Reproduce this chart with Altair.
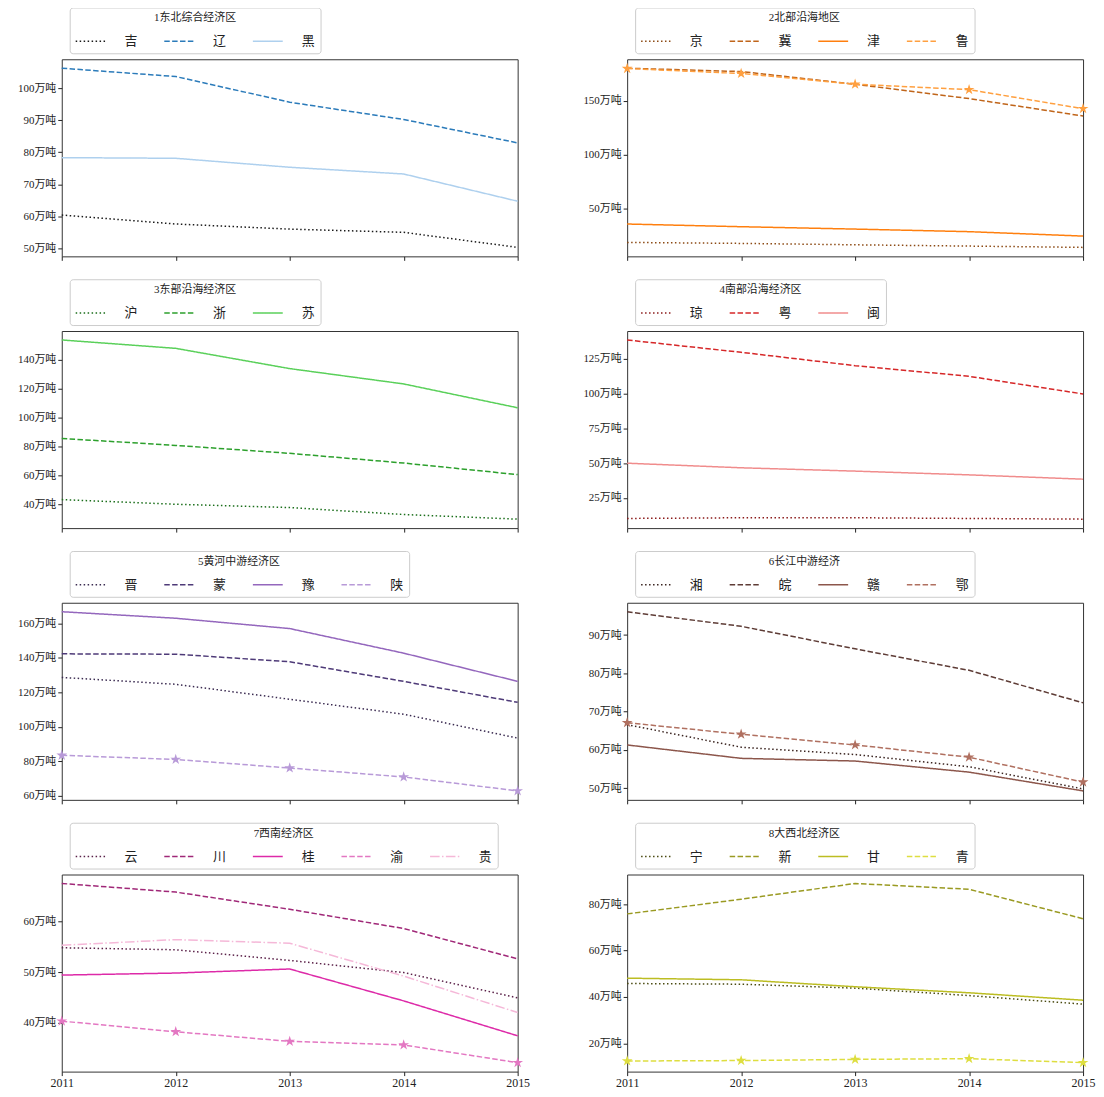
import altair as alt
import pandas as pd

years = [2011, 2012, 2013, 2014, 2015]

# ---- 1 东北综合经济区
r1_title = "1东北综合经济区"
r1_names = ["吉", "辽", "黑"]
r1_values = [[60.4, 57.6, 56.0, 55.0, 50.3],
             [106.2, 103.6, 95.6, 90.2, 82.9],
             [78.3, 78.1, 75.3, 73.2, 64.7]]
r1_colors = ["#1a1a1a", "#2b7bba", "#aed0ee"]
r1_ticks = [50, 60, 70, 80, 90, 100]

# ---- 2 北部沿海地区
r2_title = "2北部沿海地区"
r2_names = ["京", "冀", "津", "鲁"]
r2_values = [[18.3, 17.4, 16.1, 14.9, 13.7],
             [180.1, 177.0, 165.2, 151.9, 135.7],
             [35.4, 32.9, 30.7, 28.3, 24.2],
             [179.8, 175.2, 165.2, 160.2, 142.5]]
r2_colors = ["#8c4a14", "#c0651a", "#ff7f0e", "#ffa040"]
r2_ticks = [50, 100, 150]

# ---- 3 东部沿海经济区
r3_title = "3东部沿海经济区"
r3_names = ["沪", "浙", "苏"]
r3_values = [[43.4, 40.2, 37.9, 33.1, 29.9],
             [85.7, 80.9, 75.4, 68.7, 60.7],
             [153.8, 148.0, 134.0, 123.4, 106.9]]
r3_colors = ["#1a6e1a", "#2ca02c", "#5ad05a"]
r3_ticks = [40, 60, 80, 100, 120, 140]

# ---- 4 南部沿海经济区
r4_title = "4南部沿海经济区"
r4_names = ["琼", "粤", "闽"]
r4_values = [[10.1, 10.6, 10.6, 10.1, 9.6],
             [138.7, 129.8, 120.2, 112.5, 99.8],
             [49.9, 46.6, 44.2, 41.5, 38.4]]
r4_colors = ["#8b1a1a", "#d62728", "#f08c8c"]
r4_ticks = [25, 50, 75, 100, 125]

# ---- 5 黄河中游经济区
r5_title = "5黄河中游经济区"
r5_names = ["晋", "蒙", "豫", "陕"]
r5_values = [[128.7, 124.7, 116.0, 107.3, 93.4],
             [142.4, 142.2, 137.8, 126.4, 114.2],
             [166.9, 163.1, 157.1, 142.8, 126.4],
             [83.4, 81.0, 76.0, 70.8, 62.7]]
r5_colors = ["#3a2a50", "#4e3a78", "#9467bd", "#b89ad8"]
r5_ticks = [60, 80, 100, 120, 140, 160]

# ---- 6 长江中游经济
r6_title = "6长江中游经济"
r6_names = ["湘", "皖", "赣", "鄂"]
r6_values = [[66.6, 60.7, 58.8, 55.6, 49.8],
             [96.1, 92.3, 86.4, 80.8, 72.3],
             [61.3, 57.8, 57.1, 54.2, 49.3],
             [67.1, 64.1, 61.3, 58.1, 51.6]]
r6_colors = ["#3a2420", "#5e3c36", "#8c564b", "#b07060"]
r6_ticks = [50, 60, 70, 80, 90]

# ---- 7 西南经济区
r7_title = "7西南经济区"
r7_names = ["云", "川", "桂", "渝", "贵"]
r7_values = [[54.8, 54.4, 52.3, 49.9, 44.9],
             [67.5, 65.8, 62.4, 58.6, 52.6],
             [49.4, 49.8, 50.6, 44.3, 37.4],
             [40.3, 38.2, 36.3, 35.6, 32.1],
             [55.3, 56.4, 55.7, 49.2, 42.0]]
r7_colors = ["#5a2048", "#a02878", "#dd2aa8", "#e377c2", "#f5b8d8"]
r7_ticks = [40, 50, 60]

# ---- 8 大西北经济区
r8_title = "8大西北经济区"
r8_names = ["宁", "新", "甘", "青"]
r8_values = [[45.8, 45.5, 43.8, 40.6, 36.9],
             [75.8, 82.1, 88.9, 86.4, 73.7],
             [48.1, 47.4, 44.4, 41.8, 38.6],
             [12.4, 12.6, 13.1, 13.4, 11.7]]
r8_colors = ["#4a4a10", "#9a9a22", "#bcbd22", "#dede40"]
r8_ticks = [20, 40, 60, 80]

# line styles by series position: dotted, dashed, solid, dashed+star, dash-dot
DASHES = [[1.5, 2.5], [5.5, 2.4], [1, 0], [5.5, 2.4], [9.6, 2.4, 1.5, 2.4]]
STAR = "M0,-1L0.2245,-0.309L0.9511,-0.309L0.3633,0.118L0.5878,0.809L0,0.382L-0.5878,0.809L-0.3633,0.118L-0.9511,-0.309L-0.2245,-0.309Z"

FONT = "Liberation Serif, Noto Sans CJK SC"
TXT = "#222222"


def make_panel(title, names, values, colors, ticks, bottom):
    rows = []
    for n, vals in zip(names, values):
        for yr, v in zip(years, vals):
            rows.append({"year": yr, "name": n, "value": v})
    df = pd.DataFrame(rows)
    allv = [v for vals in values for v in vals]
    lo, hi = min(allv), max(allv)
    pad = 0.05 * (hi - lo)
    dom = [lo - pad, hi + pad]

    dashes = DASHES[: len(names)]

    def xaxis():
        return alt.Axis(values=years, format="d", title=None, labels=bottom,
                        labelFlush=False, labelOverlap=False, grid=False,
                        domain=False, tickSize=4, tickColor=TXT,
                        labelFont=FONT, labelFontSize=12, labelColor=TXT,
                        labelPadding=2)

    def yaxis():
        return alt.Axis(values=ticks, labelExpr="datum.value + '万吨'", title=None,
                        grid=False, domain=False, tickSize=4, tickColor=TXT,
                        labelOverlap=False, labelFont=FONT, labelFontSize=11,
                        labelColor=TXT, labelPadding=2, minExtent=48, maxExtent=48)

    def legend():
        return alt.Legend(title=title, orient="none", legendX=8, legendY=-52,
                          direction="horizontal", columns=len(names),
                          symbolType="stroke", symbolSize=900,
                          symbolStrokeWidth=1.5, labelFont=FONT,
                          labelFontSize=13, labelColor=TXT, labelOffset=18,
                          columnPadding=23, titleFont=FONT, titleFontSize=11,
                          titleFontWeight="normal", titleColor=TXT,
                          titleAnchor="middle", titlePadding=2, padding=5,
                          strokeColor="#cccccc", fillColor="white",
                          cornerRadius=3)

    def xenc():
        return alt.X("year:Q", scale=alt.Scale(domain=[2011, 2015], nice=False, zero=False), axis=xaxis())

    def yenc():
        return alt.Y("value:Q", scale=alt.Scale(domain=dom, nice=False, zero=False), axis=yaxis())

    lines = alt.Chart(df).mark_line(strokeWidth=1.5).encode(
        x=xenc(), y=yenc(),
        color=alt.Color("name:N", scale=alt.Scale(domain=names, range=colors), legend=legend()),
        strokeDash=alt.StrokeDash("name:N", scale=alt.Scale(domain=names, range=dashes), legend=legend()),
    )
    layers = [lines]
    if len(names) >= 4:
        star_name = names[3]
        star_df = df[df["name"] == star_name]
        pts = alt.Chart(star_df).mark_point(shape=STAR, filled=True, size=130,
                                           opacity=1, color=colors[3]).encode(
            x=xenc(), y=yenc())
        layers.append(pts)
    return alt.layer(*layers).properties(
        width=458, height=198,
        view=alt.ViewBackground(stroke="#333333", strokeWidth=1))


panels = [
    make_panel(r1_title, r1_names, r1_values, r1_colors, r1_ticks, False),
    make_panel(r2_title, r2_names, r2_values, r2_colors, r2_ticks, False),
    make_panel(r3_title, r3_names, r3_values, r3_colors, r3_ticks, False),
    make_panel(r4_title, r4_names, r4_values, r4_colors, r4_ticks, False),
    make_panel(r5_title, r5_names, r5_values, r5_colors, r5_ticks, False),
    make_panel(r6_title, r6_names, r6_values, r6_colors, r6_ticks, False),
    make_panel(r7_title, r7_names, r7_values, r7_colors, r7_ticks, True),
    make_panel(r8_title, r8_names, r8_values, r8_colors, r8_ticks, True),
]

chart = alt.concat(*panels, columns=2, spacing={"row": 17, "column": 48}).resolve_scale(
    color="independent", strokeDash="independent", x="independent", y="independent"
).resolve_legend(color="independent", strokeDash="independent").properties(
    padding={"left": 5, "top": -4, "right": 0, "bottom": 0}
).configure_view(stroke="#333333", strokeWidth=1).configure(background="white")

chart.save("out.html", embed_options={"renderer": "svg", "actions": False})
